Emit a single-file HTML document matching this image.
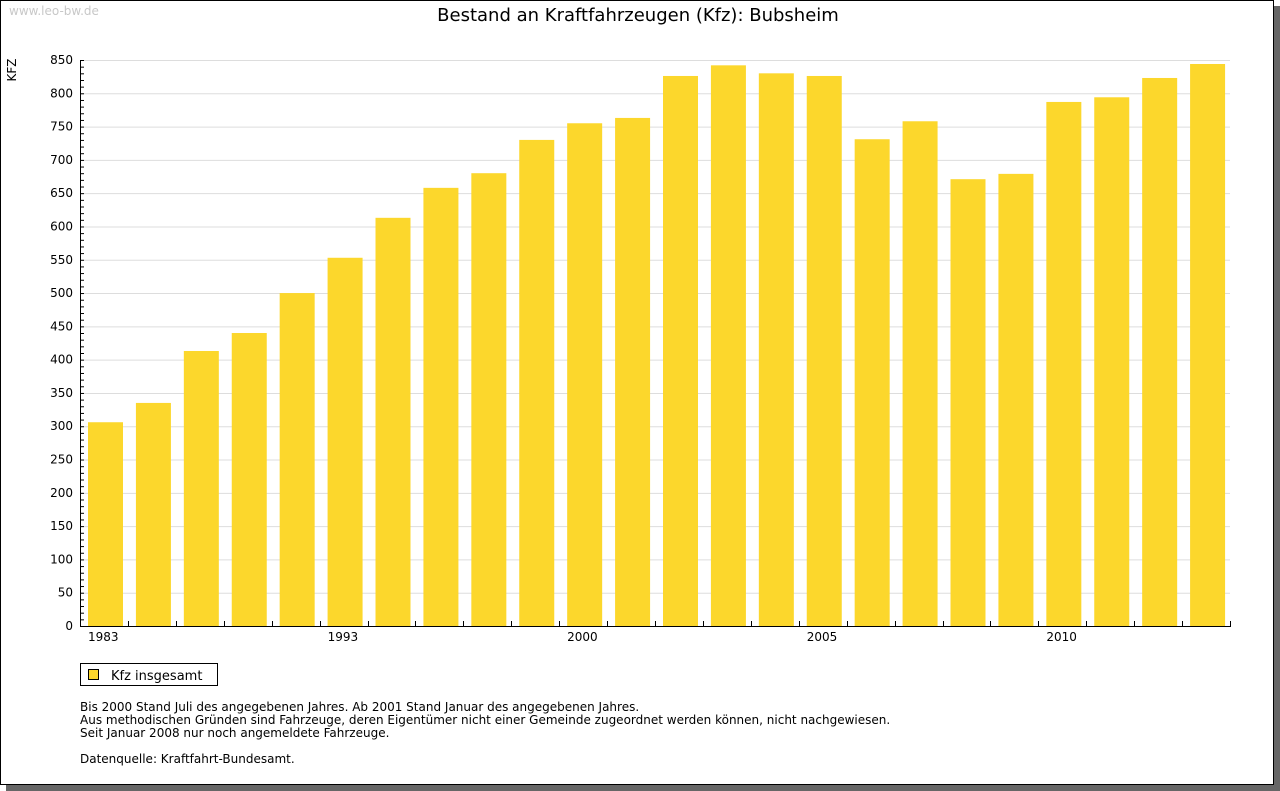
<!DOCTYPE html>
<html><head><meta charset="utf-8"><style>
body{margin:0;background:#fff;font-family:"DejaVu Sans","Liberation Sans",sans-serif;}
#wrap{position:relative;width:1280px;height:791px;overflow:hidden;background:#fff}
</style></head><body>
<div id="wrap">
<svg id="svg" width="1280" height="791" xmlns="http://www.w3.org/2000/svg" font-family="DejaVu Sans, Liberation Sans, sans-serif">
<rect x="6" y="6" width="1274" height="785" fill="#666"/>
<rect x="0.5" y="0.5" width="1273" height="784" fill="#fff" stroke="#000"/>
<text x="9" y="15" font-size="12" fill="#c8c8c8">www.leo-bw.de</text>
<text x="638" y="21" font-size="18" text-anchor="middle" fill="#000">Bestand an Kraftfahrzeugen (Kfz): Bubsheim</text>
<text transform="translate(16,70) rotate(-90)" font-size="12" text-anchor="middle">KFZ</text>
<g id="grid"></g><g id="bars"></g><g id="axes"></g>
<rect x="80.5" y="663.5" width="137" height="22" fill="#fff" stroke="#000"/>
<rect x="88.5" y="669.5" width="10" height="10" fill="#fcd72c" stroke="#000"/>
<text x="111" y="680" font-size="13">Kfz insgesamt</text>
<g font-size="12">
<text x="80" y="711">Bis 2000 Stand Juli des angegebenen Jahres. Ab 2001 Stand Januar des angegebenen Jahres.</text>
<text x="80" y="724">Aus methodischen Gründen sind Fahrzeuge, deren Eigentümer nicht einer Gemeinde zugeordnet werden können, nicht nachgewiesen.</text>
<text x="80" y="737">Seit Januar 2008 nur noch angemeldete Fahrzeuge.</text>
<text x="80" y="763">Datenquelle: Kraftfahrt-Bundesamt.</text>
</g>
</svg></div>
<script>
const categories=["1983","1985","1987","1989","1991","1993","1995","1996","1997","1999","2000","2001","2002","2003","2004","2005","2006","2007","2008","2009","2010","2011","2012","2013"];
const shownLabels=["1983","1993","2000","2005","2010"];
const values=[306,335,413,440,500,553,613,658,680,730,755,763,826,842,830,826,731,758,671,679,787,794,823,844];
const yTicks=[0,50,100,150,200,250,300,350,400,450,500,550,600,650,700,750,800,850];
const NS="http://www.w3.org/2000/svg";
const X0=80,X1=1230,Y0=626,Y1=60,YMAX=850;
const slot=(X1-X0)/categories.length;
const y=v=>Y0-(v/YMAX)*(Y0-Y1);
const xs=i=>X0+i*slot;
function mk(t,a,p){const e=document.createElementNS(NS,t);for(const k in a)e.setAttribute(k,a[k]);p.appendChild(e);return e;}
const grid=document.getElementById('grid'),bars=document.getElementById('bars'),axes=document.getElementById('axes');
yTicks.forEach(v=>{
 if(v>0){const g=mk('line',{x1:X0,x2:X1,y1:y(v)+.5,y2:y(v)+.5,stroke:'#ddd'},grid);
 
 }
 const t=mk('text',{x:X0-7,y:y(v)+4,'font-size':12,'text-anchor':'end'},axes);t.textContent=v;
 
 
});
for(let v=0;v<=YMAX;v+=10){mk('line',{x1:X0,x2:X0+(v%50?4:4),y1:y(v)+.5,y2:y(v)+.5,stroke:'#000'},axes);}
values.forEach((v,i)=>{
 const r=mk('rect',{x:xs(i)+8,y:y(v),width:35,height:Y0-y(v),fill:'#fcd72c'},bars);
 
 
 if(shownLabels.includes(categories[i])){const t=mk('text',{x:xs(i)+8,y:Y0+15,'font-size':12},axes);t.textContent=categories[i];
 
 }
});
for(let i=1;i<=categories.length;i++){mk('line',{x1:Math.round(xs(i))+.5,x2:Math.round(xs(i))+.5,y1:Y0-5,y2:Y0,stroke:'#000'},axes);}
const ya=mk('line',{x1:X0+.5,x2:X0+.5,y1:Y1,y2:Y0+1,stroke:'#000'},axes);


const xa=mk('line',{x1:X0,x2:X1+1,y1:Y0+.5,y2:Y0+.5,stroke:'#000'},axes);


</script>
</body></html>
